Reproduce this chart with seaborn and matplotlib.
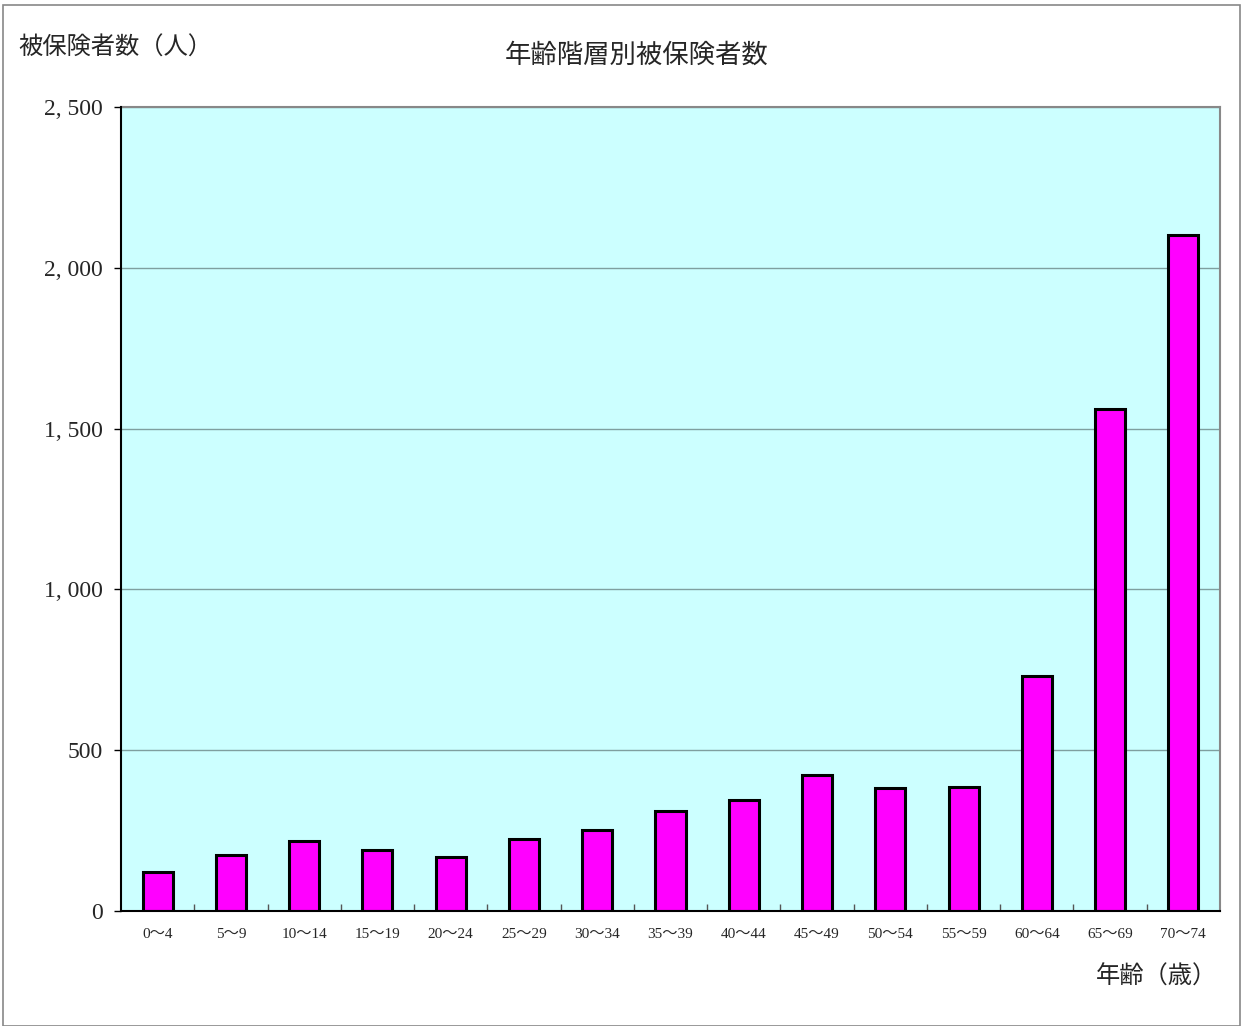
import matplotlib
matplotlib.use("Agg")
import matplotlib.pyplot as plt
import matplotlib.patches as mpatches
import seaborn as sns
import pandas as pd
from matplotlib.ticker import FuncFormatter, FixedLocator

categories = ["0～4", "5～9", "10～14", "15～19", "20～24", "25～29", "30～34",
              "35～39", "40～44", "45～49", "50～54", "55～59", "60～64", "65～69", "70～74"]
values = [121, 174, 218, 190, 168, 224, 252, 311, 345, 423, 382, 386, 731, 1561, 2102]
yticks = [0, 500, 1000, 1500, 2000, 2500]

title = "年齢階層別被保険者数"
ylabel = "被保険者数（人）"
xlabel = "年齢（歳）"

sns.set_style("white")
plt.rcParams['font.family'] = ['Noto Sans CJK JP', 'DejaVu Sans']
serif = ['Liberation Serif', 'Noto Sans CJK JP']

df = pd.DataFrame({"age": categories, "count": values})

fig = plt.figure(figsize=(12.49, 10.26), dpi=100)
ax = fig.add_axes([121/1249, 1 - 911/1026, (1220-121)/1249, (911-107)/1026])
ax.set_facecolor("#CCFFFF")

sns.barplot(data=df, x="age", y="count", ax=ax, color="#FF00FF", width=0.41,
            edgecolor="black", linewidth=2.2, saturation=1, zorder=3)

ax.set_ylim(0, 2500)
ax.set_xlim(-0.5, len(categories) - 0.5)
ax.set_yticks(yticks)
ax.yaxis.set_major_formatter(FuncFormatter(lambda v, p: f"{int(v):,}".replace(",", ", ")))
ax.grid(axis="y", color="#7f9f9f", linewidth=1.0, zorder=1)
ax.grid(axis="x", visible=False)

for lab in ax.get_yticklabels():
    lab.set_family(serif)
    lab.set_fontsize(17)
ax.tick_params(axis="y", length=5, width=1, direction="out", color="black", pad=8, left=True)
ax.tick_params(axis="x", length=0, pad=12)
for lab in ax.get_xticklabels():
    lab.set_family(serif)
    lab.set_fontsize(11)

# category boundary ticks on x axis (pointing inward)
ax.xaxis.set_minor_locator(FixedLocator([i + 0.5 for i in range(len(categories) - 1)]))
ax.tick_params(axis="x", which="minor", length=5, width=1, direction="in", color="#555555", bottom=True)

for side in ["left", "bottom"]:
    ax.spines[side].set_color("black")
    ax.spines[side].set_linewidth(1.5)
    ax.spines[side].set_zorder(5)
for side in ["top", "right"]:
    ax.spines[side].set_color("#888888")
    ax.spines[side].set_linewidth(1.5)

ax.set_xlabel("")
ax.set_ylabel("")

fig.text(637/1249, 1 - 55/1026, title, ha="center", va="center", fontsize=19, family=serif)
fig.text(18/1249, 1 - 48/1026, ylabel, ha="left", va="center", fontsize=17.5, family=serif)
fig.text(1217/1249, 1 - 977/1026, xlabel, ha="right", va="center", fontsize=17.5, family=serif)

border = mpatches.Rectangle((3/1249, 0), (1240-3)/1249, 1 - 5/1026, transform=fig.transFigure,
                            fill=False, edgecolor="#888888", linewidth=1.2)
fig.patches.append(border)

fig.savefig("out.png", dpi=100)
